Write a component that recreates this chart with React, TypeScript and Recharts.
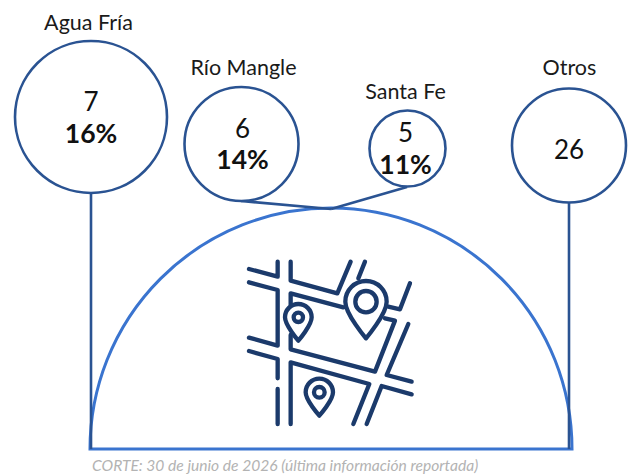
import React from "react";
import { PieChart, Pie, ScatterChart, Scatter, XAxis, YAxis, ReferenceLine, Customized } from "recharts";

const W = 637;
const H = 475;

// chart content
const categories = ["Agua Fría", "Río Mangle", "Santa Fe", "Otros"];
const counts = [7, 6, 5, 26];
const shares = ["16%", "14%", "11%", ""];
const footnote = "CORTE: 30 de junio de 2026 (última información reportada)";
const total = [44];

// layout, in page pixels
const centerX = [91, 241.5, 407.5, 569];
const centerY = [117, 144, 148.5, 145.5];
const radii = [76, 57, 38, 57];
const titleX = [88.5, 243.5, 405.5, 569.5];
const titleY = [22, 67, 91, 66.5];
const innerDx = [0, 1, -2, 0];
const countDy = [-16, -16, -17, 3];
const shareDy = [16, 15, 15, 0];

const DARK = "#2a5392";
const BLUE = "#3a74cf";
const ICON = "#1b3a6b";
const FONT = "Lato, sans-serif";

const bubbles = categories.map((name, i) => ({
  name,
  count: counts[i],
  share: shares[i],
  x: centerX[i],
  y: centerY[i],
  r: radii[i],
  titleX: titleX[i],
  titleY: titleY[i],
  innerDx: innerDx[i],
  countDy: countDy[i],
  shareDy: shareDy[i],
}));

const BubbleShape = (props: any) => {
  const { cx, cy, payload } = props;
  return (
    <g>
      <circle cx={cx} cy={cy} r={payload.r} fill="#fff" stroke={DARK} strokeWidth={2.6} />
      <text x={payload.titleX} y={payload.titleY} textAnchor="middle" dominantBaseline="central" fontFamily={FONT} fontSize={21.5} fill="#1a1a1a">
        {payload.name}
      </text>
      <text x={cx + payload.innerDx} y={cy + payload.countDy} textAnchor="middle" dominantBaseline="central" fontFamily={FONT} fontSize={26} fill="#111">
        {payload.count}
      </text>
      {payload.share ? (
        <text x={cx + payload.innerDx} y={cy + payload.shareDy} textAnchor="middle" dominantBaseline="central" fontFamily={FONT} fontWeight={700} fontSize={26.5} fill="#111">
          {payload.share}
        </text>
      ) : null}
    </g>
  );
};

const roads = [
  "M143 35 V80 L57 57",
  "M182 35 V92 L322 130 L362 35",
  "M57 97 L143 120 V287 L57 263",
  "M57 303 L143 327 V385",
  "M143 417 V522",
  "M182 165 V130 L340 172",
  "M182 255 V298 L435 365 L495 212 L465 205",
  "M182 522 V337 L418 402 L370 522",
  "M405 35 L385 85",
  "M540 100 L510 178 L475 170",
  "M535 222 L470 375 L545 395",
  "M545 433 L455 408 L410 522",
];
const pin = (x: number, y: number, r: number, tip: number) =>
  `M${x} ${tip} C${x} ${tip} ${x - r} ${y + r * 0.6} ${x - r} ${y} A${r} ${r} 0 1 1 ${x + r} ${y} C${x + r} ${y + r * 0.6} ${x} ${tip} ${x} ${tip}Z`;

const MapIcon = () => (
  <g transform="translate(230 250) scale(0.3333)" fill="none" stroke={ICON} strokeWidth={13} strokeLinecap="round" strokeLinejoin="round">
    {roads.map((d) => (
      <path key={d} d={d} />
    ))}
    <path d={pin(408, 155, 62, 265)} fill="#fff" />
    <circle cx={408} cy={155} r={32} />
    <path d={pin(205, 202, 40, 272)} fill="#fff" />
    <circle cx={205} cy={202} r={14} />
    <path d={pin(268, 427, 41, 497)} fill="#fff" />
    <circle cx={268} cy={427} r={16} />
  </g>
);

const lineStyle = { stroke: DARK, strokeWidth: 2.6 };

export default function App() {
  return (
    <div style={{ position: "absolute", left: 0, top: 0, width: W, height: H, background: "#fff" }}>
      <div style={{ position: "absolute", left: 0, top: 0 }}>
        <PieChart width={W} height={H} margin={{ top: 0, right: 0, bottom: 0, left: 0 }}>
          <Pie
            data={total.map((value) => ({ value }))}
            dataKey="value"
            cx={331}
            cy={449}
            innerRadius={0}
            outerRadius={241}
            startAngle={180}
            endAngle={0}
            fill="none"
            stroke={BLUE}
            strokeWidth={3}
            isAnimationActive={false}
            labelLine={false}
          />
        </PieChart>
      </div>
      <div style={{ position: "absolute", left: 0, top: 0 }}>
        <ScatterChart width={W} height={H} margin={{ top: 0, right: 0, bottom: 0, left: 0 }}>
          <XAxis type="number" dataKey="x" domain={[0, W]} hide />
          <YAxis type="number" dataKey="y" domain={[0, H]} reversed hide />
          <ReferenceLine segment={[{ x: 91, y: 193 }, { x: 91, y: 449 }]} {...lineStyle} />
          <ReferenceLine segment={[{ x: 569, y: 203 }, { x: 569, y: 449 }]} {...lineStyle} />
          <ReferenceLine segment={[{ x: 241, y: 201 }, { x: 331, y: 209 }]} {...lineStyle} />
          <ReferenceLine segment={[{ x: 407, y: 187 }, { x: 331, y: 209 }]} {...lineStyle} />
          <Scatter data={bubbles} shape={BubbleShape} isAnimationActive={false} />
          <Customized component={MapIcon} />
          <text x={92} y={465} dominantBaseline="central" fontFamily={FONT} fontStyle="italic" fontSize={15.6} fill="#b3b3b3">
            {footnote}
          </text>
        </ScatterChart>
      </div>
    </div>
  );
}
